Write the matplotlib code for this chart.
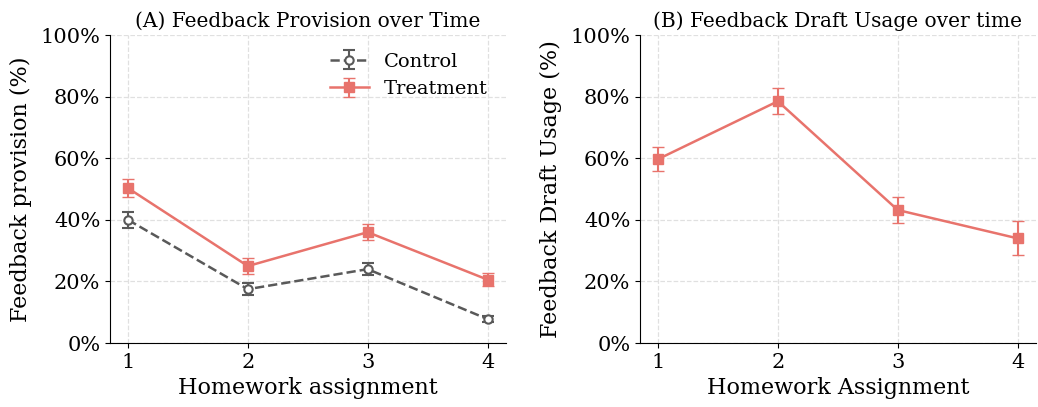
import matplotlib
matplotlib.use("Agg")
import matplotlib.pyplot as plt
from matplotlib.ticker import PercentFormatter

assignments = [1, 2, 3, 4]
control = [40.0, 17.5, 24.0, 7.8]
control_err = [2.5, 2.0, 2.0, 1.0]
treatment = [50.3, 25.0, 36.0, 20.6]
treatment_err = [2.9, 2.5, 2.5, 2.0]
draft_usage = [59.7, 78.5, 43.2, 34.0]
draft_err = [3.9, 4.3, 4.2, 5.5]

plt.rcParams['font.family'] = ['DejaVu Serif']
red = '#E8736C'
gray = '#595959'

fig = plt.figure(figsize=(10.38, 4.07), dpi=100)
ax1 = fig.add_axes([0.106, 0.157, 0.381, 0.757])
ax2 = fig.add_axes([0.6166, 0.157, 0.381, 0.757])

ax1.errorbar(assignments, control, yerr=control_err, color=gray, ls='--', lw=1.8,
             marker='o', ms=6, mfc='white', mec=gray, mew=1.5, capsize=4,
             elinewidth=1.5, label='Control')
ax1.errorbar(assignments, treatment, yerr=treatment_err, color=red, ls='-', lw=1.8,
             marker='s', ms=7, capsize=4, elinewidth=1.5, label='Treatment')
ax2.errorbar(assignments, draft_usage, yerr=draft_err, color=red, ls='-', lw=1.8,
             marker='s', ms=7, capsize=4, elinewidth=1.5)

for ax in (ax1, ax2):
    ax.set_ylim(0, 100)
    ax.set_xlim(0.85, 4.15)
    ax.set_xticks(assignments)
    ax.set_yticks([0, 20, 40, 60, 80, 100])
    ax.yaxis.set_major_formatter(PercentFormatter(decimals=0))
    ax.grid(True, ls='--', color='#e0e0e0', lw=0.9)
    ax.set_axisbelow(True)
    ax.spines['top'].set_visible(False)
    ax.spines['right'].set_visible(False)
    ax.tick_params(labelsize=15)

ax1.set_title('(A) Feedback Provision over Time', fontsize=14.5)
ax1.set_xlabel('Homework assignment', fontsize=16)
ax1.set_ylabel('Feedback provision (%)', fontsize=16, labelpad=6)
ax1.legend(loc='upper right', fontsize=14, frameon=False)

ax2.set_title('(B) Feedback Draft Usage over time', fontsize=14.5)
ax2.set_xlabel('Homework Assignment', fontsize=16)
ax2.set_ylabel('Feedback Draft Usage (%)', fontsize=16, labelpad=6)

fig.savefig('out.png', dpi=100)
